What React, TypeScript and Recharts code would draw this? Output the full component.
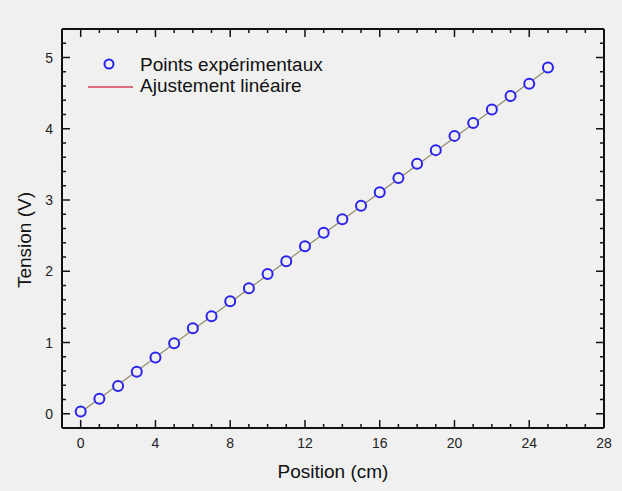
import { ComposedChart, Scatter, Line, XAxis, YAxis } from "recharts";

const positions = [0, 1, 2, 3, 4, 5, 6, 7, 8, 9, 10, 11, 12, 13, 14, 15, 16, 17, 18, 19, 20, 21, 22, 23, 24, 25];
const tensions = [
  0.03, 0.21, 0.39, 0.59, 0.79, 0.99, 1.2, 1.37, 1.58, 1.76, 1.96, 2.14, 2.35,
  2.54, 2.73, 2.92, 3.11, 3.31, 3.51, 3.7, 3.9, 4.08, 4.27, 4.46, 4.63, 4.86,
];
// endpoints of the fitted straight line
const fitPositions = [0, 25];
const fitTensions = [0.02, 4.84];

const xTicks = [0, 1, 2, 3, 4, 5, 6, 7, 8, 9, 10, 11, 12, 13, 14, 15, 16, 17, 18, 19, 20, 21, 22, 23, 24, 25, 26, 27, 28];
const xMajorTicks = [0, 4, 8, 12, 16, 20, 24, 28];
const yTicks = [0, 0.2, 0.4, 0.6, 0.8, 1, 1.2, 1.4, 1.6, 1.8, 2, 2.2, 2.4, 2.6, 2.8, 3, 3.2, 3.4, 3.6, 3.8, 4, 4.2, 4.4, 4.6, 4.8, 5, 5.2];
const yMajorTicks = [0, 1, 2, 3, 4, 5];

const seriesNames = ["Points expérimentaux", "Ajustement linéaire"];

const points = positions.map((x, i) => ({ x, y: tensions[i] }));
const fit = fitPositions.map((x, i) => ({ x, y: fitTensions[i] }));

const FONT = '"Liberation Sans", Arial, sans-serif';
const BG = "#f0f0f0";
const MARKER = "#2a22ee";
const isMajor = (list: number[], v: number) => list.some((m) => Math.abs(m - v) < 1e-6);

function BottomTick({ x, y, payload }: any) {
  const major = isMajor(xMajorTicks, payload.value);
  return (
    <g>
      <line x1={x} y1={y} x2={x} y2={y - (major ? 8 : 4)} stroke="#111" strokeWidth={1.5} />
      {major && (
        <text x={x} y={y + 20} textAnchor="middle" fontSize={14} fill="#222" fontFamily={FONT}>
          {payload.value}
        </text>
      )}
    </g>
  );
}

function TopTick({ x, y, payload }: any) {
  const major = isMajor(xMajorTicks, payload.value);
  return <line x1={x} y1={y} x2={x} y2={y + (major ? 8 : 4)} stroke="#111" strokeWidth={1.5} />;
}

function LeftTick({ x, y, payload }: any) {
  const major = isMajor(yMajorTicks, payload.value);
  return (
    <g>
      <line x1={x} y1={y} x2={x + (major ? 8 : 4)} y2={y} stroke="#111" strokeWidth={1.5} />
      {major && (
        <text x={x - 9} y={y + 5} textAnchor="end" fontSize={14} fill="#222" fontFamily={FONT}>
          {payload.value}
        </text>
      )}
    </g>
  );
}

function RightTick({ x, y, payload }: any) {
  const major = isMajor(yMajorTicks, payload.value);
  return <line x1={x} y1={y} x2={x - (major ? 8 : 4)} y2={y} stroke="#111" strokeWidth={1.5} />;
}

function HollowCircle({ cx, cy }: any) {
  return <circle cx={cx} cy={cy} r={5} fill={BG} stroke={MARKER} strokeWidth={2} />;
}

function LegendBox() {
  return (
    <svg
      width={300}
      height={60}
      style={{ position: "absolute", left: 80, top: 45, pointerEvents: "none" }}
      fontFamily={FONT}
      fontSize={19}
      fill="#111"
    >
      <circle cx={29} cy={19} r={4.5} fill={BG} stroke={MARKER} strokeWidth={2} />
      <text x={60} y={26}>{seriesNames[0]}</text>
      <line x1={8} y1={42} x2={53} y2={42} stroke="#d2405a" strokeWidth={1.5} />
      <text x={60} y={47}>{seriesNames[1]}</text>
    </svg>
  );
}

export default function App() {
  return (
    <div style={{ position: "absolute", left: 0, top: 0, width: 622, height: 491, background: BG }}>
      <ComposedChart width={622} height={491} margin={{ top: 0, right: 0, bottom: 0, left: 0 }}>
        <XAxis
          xAxisId="bottom"
          dataKey="x"
          type="number"
          domain={[-1, 28]}
          ticks={xTicks}
          interval={0}
          height={63}
          tickSize={0}
          tickMargin={0}
          tickLine={false}
          tick={<BottomTick />}
          axisLine={{ stroke: "#111", strokeWidth: 2 }}
          allowDataOverflow
          label={{
            content: () => (
              <text x={333} y={478} textAnchor="middle" fontSize={19} fill="#111" fontFamily={FONT}>
                Position (cm)
              </text>
            ),
          }}
        />
        <XAxis
          xAxisId="top"
          orientation="top"
          dataKey="x"
          type="number"
          domain={[-1, 28]}
          ticks={xTicks}
          interval={0}
          height={29}
          tickSize={0}
          tickMargin={0}
          tickLine={false}
          tick={<TopTick />}
          axisLine={{ stroke: "#111", strokeWidth: 2 }}
          allowDataOverflow
        />
        <YAxis
          yAxisId="left"
          type="number"
          domain={[-0.2, 5.4]}
          ticks={yTicks}
          interval={0}
          width={62}
          tickSize={0}
          tickMargin={0}
          tickLine={false}
          tick={<LeftTick />}
          axisLine={{ stroke: "#111", strokeWidth: 2 }}
          allowDataOverflow
          label={{
            content: () => (
              <text
                x={31}
                y={240}
                transform="rotate(-90 31 240)"
                textAnchor="middle"
                fontSize={19}
                fill="#111"
                fontFamily={FONT}
              >
                Tension (V)
              </text>
            ),
          }}
        />
        <YAxis
          yAxisId="right"
          orientation="right"
          type="number"
          domain={[-0.2, 5.4]}
          ticks={yTicks}
          interval={0}
          width={18}
          tickSize={0}
          tickMargin={0}
          tickLine={false}
          tick={<RightTick />}
          axisLine={{ stroke: "#111", strokeWidth: 2 }}
          allowDataOverflow
        />
        <Line
          xAxisId="bottom"
          yAxisId="left"
          data={fit}
          dataKey="y"
          name={seriesNames[1]}
          stroke="#8f8a6a"
          strokeWidth={1.2}
          dot={false}
          isAnimationActive={false}
        />
        <Scatter
          xAxisId="bottom"
          yAxisId="left"
          data={points}
          dataKey="y"
          name={seriesNames[0]}
          shape={<HollowCircle />}
          isAnimationActive={false}
        />
      </ComposedChart>
      <LegendBox />
    </div>
  );
}
